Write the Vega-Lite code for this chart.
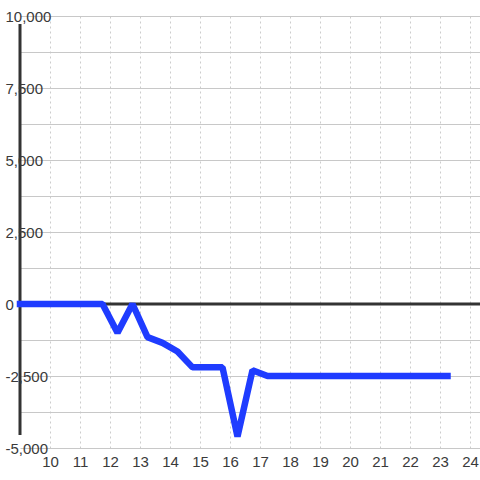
{
  "$schema": "https://vega.github.io/schema/vega-lite/v6.json",
  "width": 460,
  "height": 432,
  "autosize": "none",
  "padding": {"left": 20, "top": 16, "right": 0, "bottom": 32},
  "background": "white",
  "config": {
    "view": {"stroke": null},
    "font": "Liberation Sans",
    "axis": {"labelFont": "Liberation Sans", "labelFontSize": 15, "labelColor": "#3a3a3a"}
  },
  "data": {
    "values": [
      {"t": 9, "v": 0},
      {"t": 9.25, "v": 0},
      {"t": 9.75, "v": 0},
      {"t": 10.25, "v": 0},
      {"t": 10.75, "v": 0},
      {"t": 11.25, "v": 0},
      {"t": 11.75, "v": 0},
      {"t": 12.25, "v": -1000},
      {"t": 12.75, "v": 0},
      {"t": 13.25, "v": -1150},
      {"t": 13.75, "v": -1350},
      {"t": 14.25, "v": -1650},
      {"t": 14.75, "v": -2200},
      {"t": 15.25, "v": -2200},
      {"t": 15.75, "v": -2200},
      {"t": 16.25, "v": -4600},
      {"t": 16.75, "v": -2300},
      {"t": 17.25, "v": -2500},
      {"t": 17.75, "v": -2500},
      {"t": 18.25, "v": -2500},
      {"t": 18.75, "v": -2500},
      {"t": 19.25, "v": -2500},
      {"t": 19.75, "v": -2500},
      {"t": 20.25, "v": -2500},
      {"t": 20.75, "v": -2500},
      {"t": 21.25, "v": -2500},
      {"t": 21.75, "v": -2500},
      {"t": 22.25, "v": -2500},
      {"t": 22.75, "v": -2500},
      {"t": 23.25, "v": -2500}
    ]
  },
  "resolve": {"axis": {"y": "independent"}},
  "layer": [
    {
      "data": {"values": [{"t": 9, "top": 9720, "bottom": -4550}]},
      "mark": {"type": "rule", "color": "#333333", "strokeWidth": 3},
      "encoding": {
        "x": {
          "field": "t", "type": "quantitative",
          "scale": {"domain": [9, 24.3333], "nice": false, "zero": false},
          "axis": {
            "values": [10, 11, 12, 13, 14, 15, 16, 17, 18, 19, 20, 21, 22, 23, 24],
            "grid": true, "gridColor": "#cccccc", "gridDash": [2, 3], "gridWidth": 1,
            "domain": false, "ticks": false, "tickSize": 0, "labelPadding": 6,
            "labelFlush": false, "labelOverlap": false, "labelBound": false, "title": null
          }
        },
        "y": {
          "field": "top", "type": "quantitative",
          "scale": {"domain": [-5000, 10000], "nice": false, "zero": false},
          "axis": {
            "orient": "right",
            "values": [-5000, -3750, -2500, -1250, 0, 1250, 2500, 3750, 5000, 6250, 7500, 8750, 10000],
            "grid": true, "gridColor": "#c8c8c8", "gridWidth": 1,
            "labels": false, "domain": false, "ticks": false, "title": null, "zindex": 0
          }
        },
        "y2": {"field": "bottom"}
      }
    },
    {
      "data": {"values": [{"base": 0}]},
      "mark": {"type": "rule", "color": "#333333", "strokeWidth": 3},
      "encoding": {
        "y": {"field": "base", "type": "quantitative", "axis": null}
      }
    },
    {
      "mark": {"type": "line", "color": "#1f3cff", "strokeWidth": 6.5, "strokeCap": "square", "strokeJoin": "bevel"},
      "encoding": {
        "x": {
          "field": "t", "type": "quantitative",
          "axis": {
            "values": [10, 11, 12, 13, 14, 15, 16, 17, 18, 19, 20, 21, 22, 23, 24],
            "grid": true, "gridColor": "#cccccc", "gridDash": [2, 3], "gridWidth": 1,
            "domain": false, "ticks": false, "tickSize": 0, "labelPadding": 6,
            "labelFlush": false, "labelOverlap": false, "labelBound": false, "title": null
          }
        },
        "y": {
          "field": "v", "type": "quantitative",
          "axis": {
            "orient": "left",
            "values": [-5000, -2500, 0, 2500, 5000, 7500, 10000],
            "grid": false, "domain": false, "ticks": false, "tickSize": 0,
            "labelAlign": "left", "labelBaseline": "middle", "labelPadding": 15,
            "labelFlush": false, "labelOverlap": false, "labelBound": false, "title": null, "zindex": 1,
            "labelExpr": "datum.value < 0 ? '-' + format(abs(datum.value), ',') : format(datum.value, ',')"
          }
        }
      }
    }
  ]
}
